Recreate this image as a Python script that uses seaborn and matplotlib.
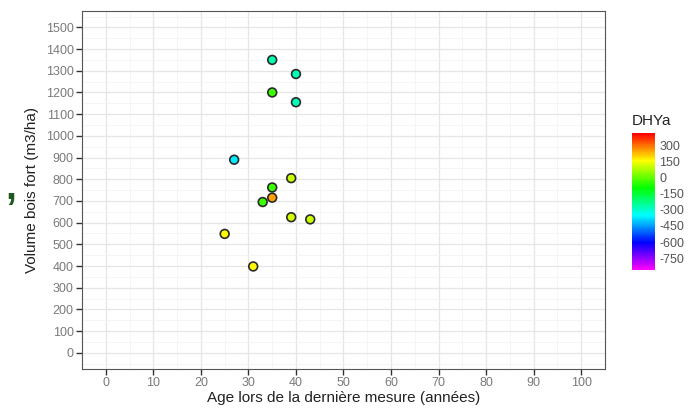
import numpy as np
import pandas as pd
import seaborn as sns
import matplotlib.pyplot as plt
from matplotlib.colors import LinearSegmentedColormap, Normalize
from matplotlib.cm import ScalarMappable
from matplotlib.ticker import MultipleLocator

# Values
age = [35, 40, 35, 40, 27, 39, 35, 35, 33, 39, 43, 25, 31]
volume = [1350, 1285, 1200, 1155, 890, 805, 762, 715, 695, 625, 615, 548, 398]
dhya = [-270, -280, -40, -280, -370, 100, -40, 250, -40, 110, 100, 160, 160]

cbar_ticks = [300, 150, 0, -150, -300, -450, -600, -750]
vmin, vmax = -860, 410

df = pd.DataFrame({"Age": age, "Volume": volume, "DHYa": dhya})

# rainbow scale: magenta (low) -> blue -> cyan -> green -> yellow -> red (high)
rainbow = LinearSegmentedColormap.from_list(
    "rainbow_gg", ["#FF00FF", "#0000FF", "#00FFFF", "#00FF00", "#FFFF00", "#FF0000"])
norm = Normalize(vmin=vmin, vmax=vmax)

sns.set_theme(style="whitegrid")
plt.rcParams['font.family'] = ['Liberation Sans', 'DejaVu Sans']
plt.rcParams['axes.unicode_minus'] = False

fig = plt.figure(figsize=(6.96, 4.11), dpi=100)
ax = fig.add_axes([0.118, 0.102, 0.751, 0.871])

sns.scatterplot(data=df, x="Age", y="Volume", hue="DHYa", palette=rainbow,
                hue_norm=norm, s=40, edgecolor="#2A2A2A", linewidth=1.2,
                legend=False, ax=ax, zorder=3)

ax.set_xlim(-5, 105)
ax.set_ylim(-75, 1575)
ax.xaxis.set_major_locator(MultipleLocator(10))
ax.xaxis.set_minor_locator(MultipleLocator(5))
ax.yaxis.set_major_locator(MultipleLocator(100))
ax.yaxis.set_minor_locator(MultipleLocator(50))
ax.grid(which="major", color="#E6E6E6", linewidth=0.9)
ax.grid(which="minor", color="#F2F2F2", linewidth=0.5)
ax.set_facecolor("white")
for sp in ax.spines.values():
    sp.set_color("#555555")
    sp.set_linewidth(0.8)
ax.tick_params(which="major", length=4, width=1.0, color="#333333",
               labelsize=9, labelcolor="#7A7A7A", pad=2, bottom=True, left=True)
ax.tick_params(which="minor", length=0)
ax.set_xlabel("Age lors de la dernière mesure (années)", fontsize=11, color="#222222", labelpad=1)
ax.set_ylabel("Volume bois fort (m3/ha)", fontsize=11, color="#222222", labelpad=5)

# colourbar
cax = fig.add_axes([0.908, 0.343, 0.033, 0.333])
cb = fig.colorbar(ScalarMappable(norm=norm, cmap=rainbow), cax=cax, ticks=cbar_ticks)
cb.outline.set_visible(False)
cax.tick_params(length=0, labelsize=9, labelcolor="#555555", pad=3)
cax.set_title("DHYa", fontsize=11, loc="left", color="#222222", pad=6)

# stray mark at left edge of the source slide
fig.text(0.008, 0.515, ",", color="#1E5A1E", fontsize=28, fontweight="bold")

fig.savefig("out.png", dpi=100)
